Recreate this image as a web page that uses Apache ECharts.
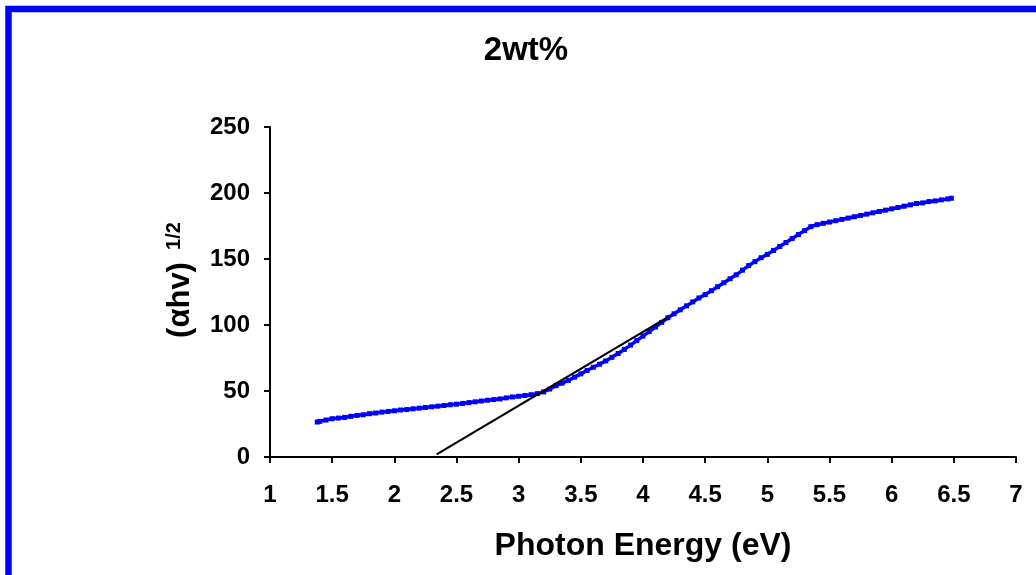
<!DOCTYPE html>
<html>
<head>
<meta charset="utf-8">
<script src="https://cdn.jsdelivr.net/npm/echarts@6/dist/echarts.min.js"></script>
<style>html,body{margin:0;padding:0;background:#fff;}#c{width:1036px;height:575px;}</style>
</head>
<body>
<div id="c"></div>
<script>
const energy = [1.38,1.40,1.45,1.50,1.55,1.60,1.65,1.70,1.75,1.80,1.85,1.90,1.95,2.00,2.05,2.10,2.15,2.20,2.25,2.30,2.35,2.40,2.45,2.50,2.55,2.60,2.65,2.70,2.75,2.80,2.85,2.90,2.95,3.00,3.05,3.10,3.15,3.20,3.25,3.30,3.35,3.40,3.45,3.50,3.55,3.60,3.65,3.70,3.75,3.80,3.85,3.90,3.95,4.00,4.05,4.10,4.15,4.20,4.25,4.30,4.35,4.40,4.45,4.50,4.55,4.60,4.65,4.70,4.75,4.80,4.85,4.90,4.95,5.00,5.05,5.10,5.15,5.20,5.25,5.30,5.35,5.40,5.45,5.50,5.55,5.60,5.65,5.70,5.75,5.80,5.85,5.90,5.95,6.00,6.05,6.10,6.15,6.20,6.25,6.30,6.35,6.40,6.45,6.48];
const absorb = [26.5,27,28,29,29.5,30,30.8,31.5,32,32.8,33.3,34,34.5,35,35.6,36,36.5,37,37.5,38,38.5,39,39.6,40,40.6,41.2,41.8,42.4,43,43.5,44,44.8,45.5,46,46.6,47.2,48,49.3,51.5,54,56,58,60.5,63,65.5,68,70.3,72.8,75.5,78.4,81.5,84.8,88.2,91.6,95,98.5,102,105.5,108.5,111.5,114.5,117.5,120.5,123,126,129,132,135,138,141.5,145,148,151,153.5,156.5,159.5,162.5,165.5,168.5,171.5,174.5,176,177,178,179,180,181,182,183,184,185,186,187,188,189,190,191,192,192.5,193.5,194,194.8,195.5,196];
const tangentX = [2.34, 4.2];
const tangentY = [2, 106];
const xTicks = [1,1.5,2,2.5,3,3.5,4,4.5,5,5.5,6,6.5,7];
const yTicks = [0,50,100,150,200,250];

const chart = echarts.init(document.getElementById('c'));
const font = '"Liberation Sans", Arial, sans-serif';
chart.setOption({
  animation: false,
  backgroundColor: '#fff',
  grid: {left: 270, right: 20, top: 127, bottom: 118},
  graphic: [
    {type: 'rect', shape: {x: 8.5, y: 9, width: 2000, height: 2000}, style: {fill: 'none', stroke: '#0000ff', lineWidth: 6.5}, z: 10},
    {type: 'text', x: 526, y: 51, style: {text: '2wt%', font: 'bold 33px ' + font, fill: '#000', align: 'center', verticalAlign: 'middle'}},
    {type: 'text', x: 180, y: 300, rotation: Math.PI / 2, style: {text: '(αhv)', font: 'bold 31px ' + font, fill: '#000', align: 'center', verticalAlign: 'middle'}},
    {type: 'text', x: 174, y: 236, rotation: Math.PI / 2, style: {text: '1/2', font: 'bold 20px ' + font, fill: '#000', align: 'center', verticalAlign: 'middle'}}
  ],
  xAxis: {
    type: 'value', min: 1, max: 7, interval: 0.5,
    name: 'Photon Energy (eV)', nameLocation: 'middle', nameGap: 73,
    nameTextStyle: {fontFamily: font, fontWeight: 'bold', fontSize: 32, color: '#000'},
    axisLine: {onZero: false, lineStyle: {color: '#000', width: 2}},
    axisTick: {show: true, length: 6, lineStyle: {color: '#000', width: 2}},
    axisLabel: {margin: 26, fontFamily: font, fontWeight: 'bold', fontSize: 24, color: '#000',
      formatter: v => xTicks.includes(v) ? String(v) : ''},
    splitLine: {show: false}
  },
  yAxis: {
    type: 'value', min: 0, max: 250, interval: 50,
    axisLine: {show: true, lineStyle: {color: '#000', width: 2}},
    axisTick: {show: true, length: 6, lineStyle: {color: '#000', width: 2}},
    axisLabel: {margin: 20, fontFamily: font, fontWeight: 'bold', fontSize: 24, color: '#000',
      formatter: v => yTicks.includes(v) ? String(v) : ''},
    splitLine: {show: false}
  },
  series: [
    {type: 'line', data: energy.map((x, i) => [x, absorb[i]]), symbol: 'rect', symbolSize: 5, showSymbol: true,
      itemStyle: {color: '#0000ff'}, lineStyle: {color: '#0000ff', width: 3.5}, z: 2},
    {type: 'line', data: tangentX.map((x, i) => [x, tangentY[i]]), symbol: 'none',
      lineStyle: {color: '#000', width: 2.2}, z: 3}
  ]
});
</script>
</body>
</html>
